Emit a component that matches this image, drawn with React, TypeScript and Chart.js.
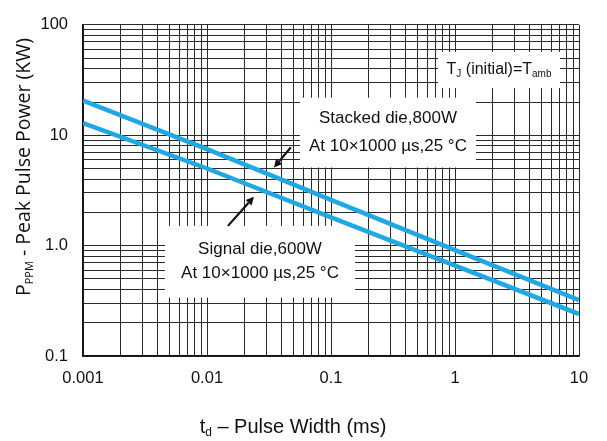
import React, { useEffect, useRef } from 'react';
import { Chart, registerables } from 'chart.js';

Chart.register(...registerables);

// ---- data ----
const pulseWidthMs = [0.001, 0.01, 0.1, 1, 10];
const stackedDieKW = [20.6, 7.5, 2.6, 0.91, 0.32];
const signalDieKW = [12.9, 5.0, 1.8, 0.66, 0.24];

const xTickValues = [0.001, 0.01, 0.1, 1, 10];
const xTickLabels = ['0.001', '0.01', '0.1', '1', '10'];
const yTickValues = [0.1, 1, 10, 100];
const yTickLabels = ['0.1', '1.0', '10', '100'];

const LINE_BLUE = '#1EA8E6';
const GRID = '#2a2a2a';
const SANS = '"Liberation Sans", Arial, sans-serif';

function logGrid(min: number, max: number) {
  const out: { value: number }[] = [];
  for (let e = Math.round(Math.log10(min)); e < Math.round(Math.log10(max)); e++) {
    for (let m = 1; m <= 9; m++) out.push({ value: +(m * Math.pow(10, e)).toPrecision(3) });
  }
  out.push({ value: max });
  return out;
}

function labelFor(values: number[], labels: string[], v: number) {
  for (let i = 0; i < values.length; i++) {
    if (Math.abs(v - values[i]) / values[i] < 1e-6) return labels[i];
  }
  return '';
}

// annotation layout (data coordinates)
const boxes = [
  { x0: 0.0562, x1: 1.476, y0: 21.9, y1: 5.1, lines: ['Stacked die,800W', 'At 10×1000 µs,25 °C'], gap: 28 },
  { x0: 0.00458, x1: 0.1563, y0: 1.51, y1: 0.338, lines: ['Signal die,600W', 'At 10×1000 µs,25 °C'], gap: 24 },
];
const tjBox = { x0: 0.73, x1: 7.03, y0: 56.8, y1: 26.8 };
const arrows = [
  { fx: 0.0475, fy: 7.8, tx: 0.0347, ty: 5.1 },
  { fx: 0.01476, fy: 1.51, tx: 0.0239, ty: 2.77 },
];

function drawSubText(ctx: CanvasRenderingContext2D, parts: { t: string; sub?: boolean }[], cx: number, cy: number, size: number, subSize: number, family: string) {
  let total = 0;
  const widths = parts.map((p) => {
    ctx.font = `${p.sub ? subSize : size}px ${family}`;
    const w = ctx.measureText(p.t).width;
    total += w;
    return w;
  });
  let x = cx - total / 2;
  ctx.textBaseline = 'middle';
  ctx.textAlign = 'left';
  parts.forEach((p, i) => {
    ctx.font = `${p.sub ? subSize : size}px ${family}`;
    ctx.fillText(p.t, x, p.sub ? cy + size * 0.28 : cy);
    x += widths[i];
  });
}

const overlay = {
  id: 'overlay',
  beforeDatasetsDraw(chart: any) {
    const { ctx, scales } = chart;
    const x = scales.x, y = scales.y;
    ctx.save();
    ctx.fillStyle = '#ffffff';
    [...boxes, tjBox].forEach((b: any) => {
      const l = x.getPixelForValue(b.x0), r = x.getPixelForValue(b.x1);
      const t = y.getPixelForValue(b.y0), bo = y.getPixelForValue(b.y1);
      ctx.fillRect(l, t, r - l, bo - t);
    });
    ctx.restore();
  },
  afterDatasetsDraw(chart: any) {
    const { ctx, scales } = chart;
    const x = scales.x, y = scales.y;
    ctx.save();
    ctx.fillStyle = '#111';
    boxes.forEach((b) => {
      const cx = (x.getPixelForValue(b.x0) + x.getPixelForValue(b.x1)) / 2;
      const cy = (y.getPixelForValue(b.y0) + y.getPixelForValue(b.y1)) / 2;
      ctx.font = `17px ${SANS}`;
      ctx.textAlign = 'center';
      ctx.textBaseline = 'middle';
      ctx.fillText(b.lines[0], cx, cy - b.gap / 2);
      ctx.fillText(b.lines[1], cx, cy + b.gap / 2);
    });
    {
      const cx = (x.getPixelForValue(tjBox.x0) + x.getPixelForValue(tjBox.x1)) / 2;
      const cy = (y.getPixelForValue(tjBox.y0) + y.getPixelForValue(tjBox.y1)) / 2;
      drawSubText(ctx, [{ t: 'T' }, { t: 'J', sub: true }, { t: ' (initial)=T' }, { t: 'amb', sub: true }], cx, cy, 16, 10, SANS);
    }
    ctx.strokeStyle = '#111';
    ctx.lineWidth = 2.2;
    arrows.forEach((a) => {
      const x1 = x.getPixelForValue(a.fx), y1 = y.getPixelForValue(a.fy);
      const x2 = x.getPixelForValue(a.tx), y2 = y.getPixelForValue(a.ty);
      const ang = Math.atan2(y2 - y1, x2 - x1);
      const hl = 8, hw = 4;
      const bx = x2 - hl * Math.cos(ang), by = y2 - hl * Math.sin(ang);
      ctx.beginPath();
      ctx.moveTo(x1, y1);
      ctx.lineTo(bx, by);
      ctx.stroke();
      ctx.beginPath();
      ctx.moveTo(x2, y2);
      ctx.lineTo(bx + hw * Math.sin(ang), by - hw * Math.cos(ang));
      ctx.lineTo(bx - hw * Math.sin(ang), by + hw * Math.cos(ang));
      ctx.closePath();
      ctx.fill();
    });
    // axis titles
    drawSubText(ctx, [{ t: 't' }, { t: 'd', sub: true }, { t: ' – Pulse Width (ms)' }], 293, 427, 20, 12, SANS);
    ctx.save();
    ctx.translate(24, 167);
    ctx.rotate(-Math.PI / 2);
    drawSubText(ctx, [{ t: 'P' }, { t: 'PPM', sub: true }, { t: ' - Peak Pulse Power (KW)' }], 0, 0, 19.5, 11, '"Open Sans", sans-serif');
    ctx.restore();
    ctx.restore();
  },
};

export default function App() {
  const ref = useRef<HTMLCanvasElement>(null);
  useEffect(() => {
    if (!ref.current) return;
    const chart = new Chart(ref.current, {
      type: 'line',
      data: {
        datasets: [
          {
            label: 'Stacked die, 800W',
            data: pulseWidthMs.map((t, i) => ({ x: t, y: stackedDieKW[i] })),
            borderColor: LINE_BLUE,
            borderWidth: 4.5,
            pointRadius: 0,
            tension: 0,
            fill: false,
          },
          {
            label: 'Signal die, 600W',
            data: pulseWidthMs.map((t, i) => ({ x: t, y: signalDieKW[i] })),
            borderColor: LINE_BLUE,
            borderWidth: 4.5,
            pointRadius: 0,
            tension: 0,
            fill: false,
          },
        ],
      },
      options: {
        animation: false,
        responsive: true,
        maintainAspectRatio: false,
        layout: { padding: { left: 0, top: 15, right: 28, bottom: 0 } },
        plugins: { legend: { display: false }, tooltip: { enabled: false }, title: { display: false } },
        scales: {
          x: {
            type: 'logarithmic',
            min: 0.001,
            max: 10,
            afterBuildTicks: (s: any) => { s.ticks = logGrid(0.001, 10); },
            afterFit: (s: any) => { s.height = 85; },
            border: { display: true, color: '#111', width: 1.5 },
            grid: { color: GRID, lineWidth: 1, drawTicks: false },
            ticks: {
              autoSkip: false,
              maxRotation: 0,
              padding: 13,
              color: '#111',
              font: { family: SANS, size: 16.5 },
              callback: (v: any) => labelFor(xTickValues, xTickLabels, Number(v)),
            },
          },
          y: {
            type: 'logarithmic',
            min: 0.1,
            max: 100,
            afterBuildTicks: (s: any) => { s.ticks = logGrid(0.1, 100); },
            afterFit: (s: any) => { s.width = 83; },
            border: { display: true, color: '#111', width: 1.5 },
            grid: { color: GRID, lineWidth: 1, drawTicks: false },
            ticks: {
              autoSkip: false,
              padding: 15,
              color: '#111',
              font: { family: SANS, size: 16.5 },
              callback: (v: any) => labelFor(yTickValues, yTickLabels, Number(v)),
            },
          },
        },
      },
      plugins: [overlay],
    } as any);
    return () => chart.destroy();
  }, []);
  return (
    <div style={{ position: 'fixed', left: 0, top: 0, width: 607, height: 441, background: '#fff' }}>
      <canvas ref={ref} />
    </div>
  );
}
